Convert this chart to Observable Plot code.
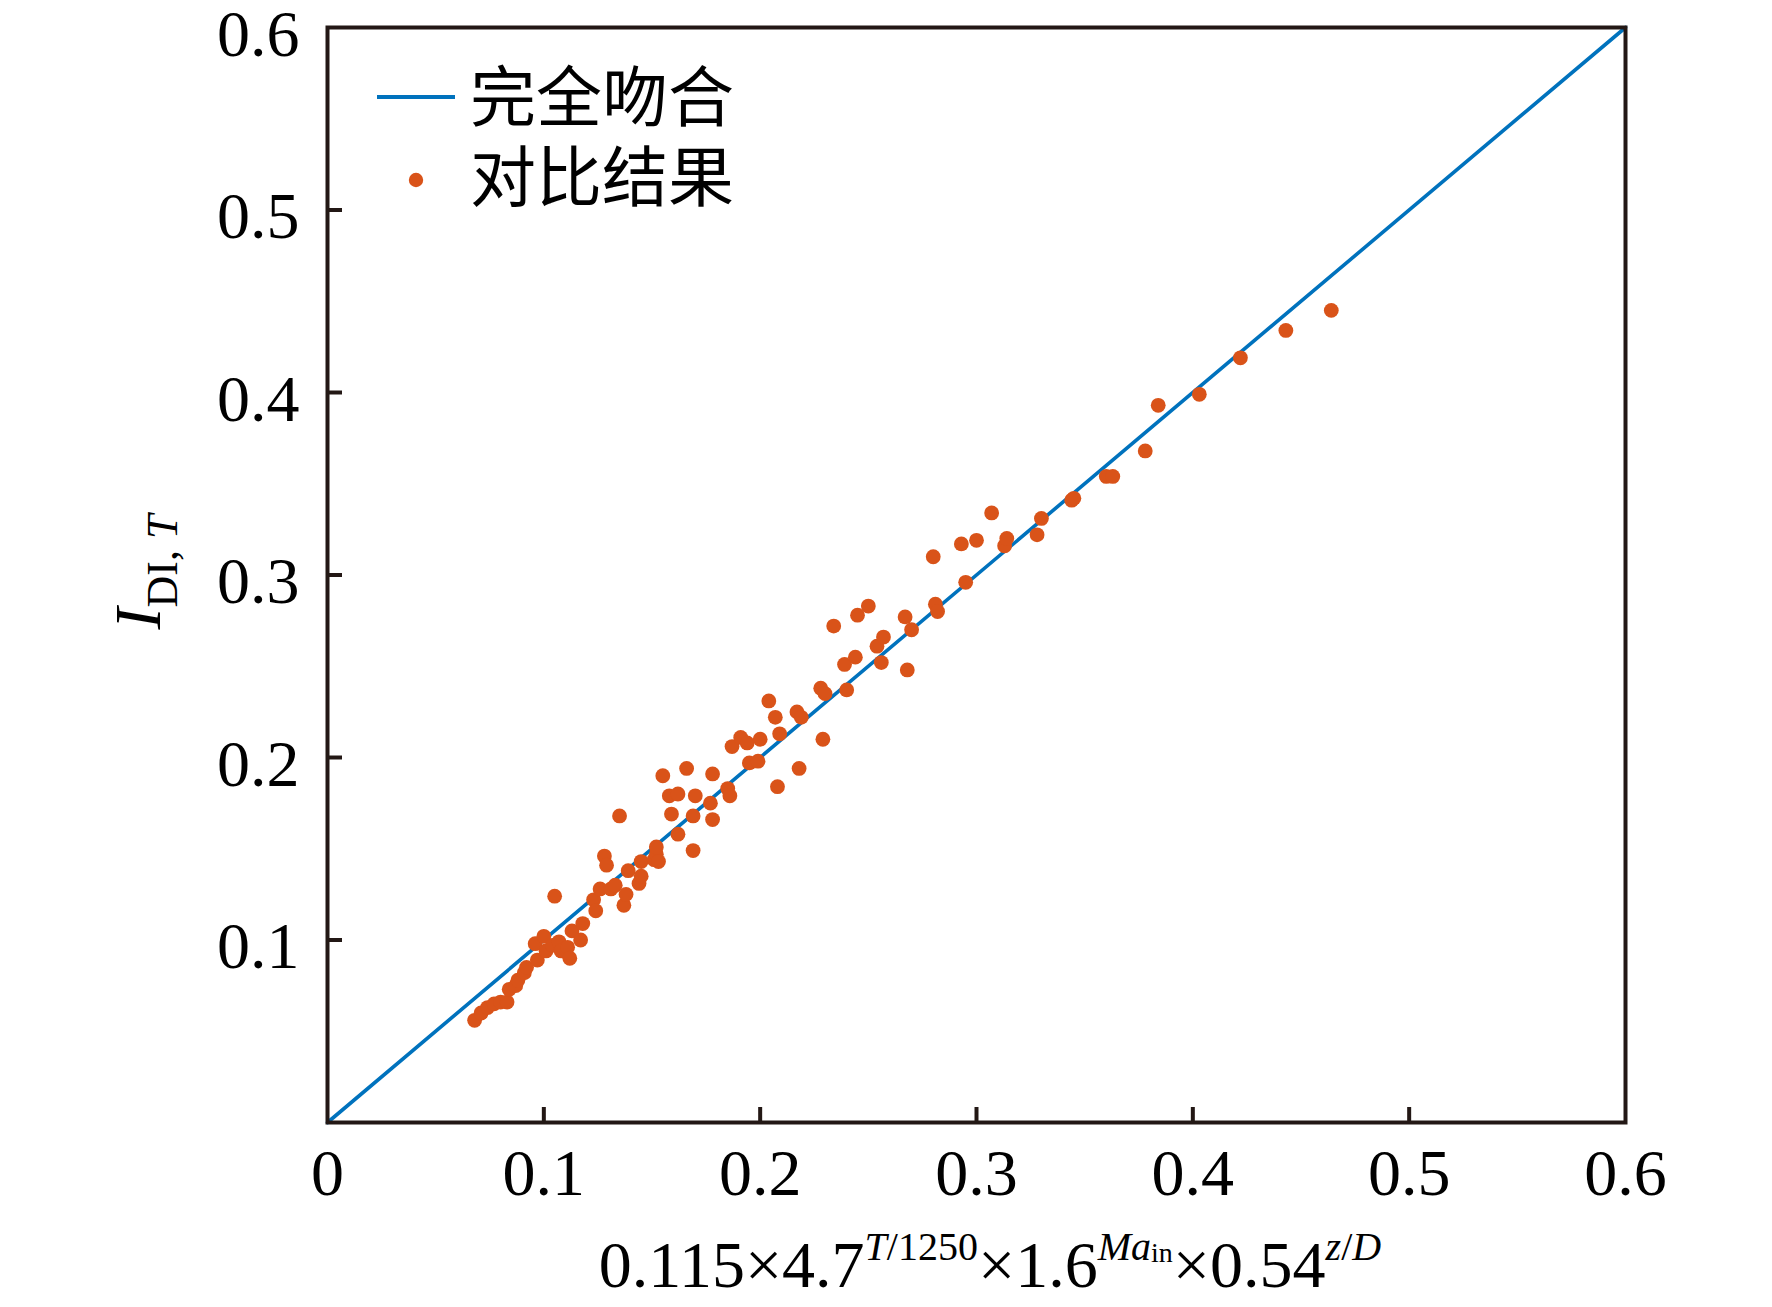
<!DOCTYPE html>
<html>
<head>
<meta charset="utf-8">
<script src="https://cdn.jsdelivr.net/npm/d3@7"></script>
<script src="https://cdn.jsdelivr.net/npm/@observablehq/plot@0.6"></script>
<style>
  html, body { margin: 0; padding: 0; background: #fff; overflow: hidden; }
  #chart svg { display: block; }
</style>
</head>
<body>
<div id="chart"></div>
<script>
// ---- data ----
const xTicks = [0, 0.1, 0.2, 0.3, 0.4, 0.5, 0.6];
const xTickLabels = ["0", "0.1", "0.2", "0.3", "0.4", "0.5", "0.6"];
const yTicks = [0.1, 0.2, 0.3, 0.4, 0.5, 0.6];
const yTickLabels = ["0.1", "0.2", "0.3", "0.4", "0.5", "0.6"];
const innerTicks = [0.1, 0.2, 0.3, 0.4, 0.5];

const legendLabels = ["完全吻合", "对比结果"];
const fitX = [0, 0.6];           // perfect-fit line y = x
const fitY = [0, 0.6];

// comparison results: predicted (x) vs measured I_DI,T (y)
const predX = [
  0.068, 0.071, 0.074, 0.077, 0.080, 0.083, 0.084, 0.087, 0.088, 0.091,
  0.092, 0.096, 0.097, 0.100, 0.101, 0.105, 0.104, 0.107, 0.108, 0.111,
  0.112, 0.113, 0.117, 0.118, 0.123, 0.124, 0.126, 0.128, 0.129, 0.131,
  0.133, 0.135, 0.137, 0.138, 0.139, 0.144, 0.145, 0.145, 0.151, 0.152,
  0.152, 0.153, 0.155, 0.158, 0.159, 0.162, 0.162, 0.166, 0.169, 0.169,
  0.170, 0.177, 0.178, 0.178, 0.185, 0.186, 0.187, 0.191, 0.194, 0.195,
  0.199, 0.200, 0.204, 0.207, 0.208, 0.209, 0.217, 0.219, 0.218, 0.228,
  0.229, 0.230, 0.234, 0.239, 0.240, 0.244, 0.245, 0.250, 0.254, 0.256,
  0.257, 0.267, 0.268, 0.270, 0.280, 0.281, 0.282, 0.293, 0.295, 0.300,
  0.307, 0.313, 0.314, 0.328, 0.330, 0.344, 0.345, 0.360, 0.363, 0.378,
  0.384, 0.403, 0.422, 0.443, 0.464
];
const measY = [
  0.056, 0.060, 0.063, 0.065, 0.066, 0.066, 0.073, 0.075, 0.078, 0.082,
  0.085, 0.098, 0.089, 0.102, 0.094, 0.124, 0.097, 0.099, 0.094, 0.096,
  0.090, 0.105, 0.100, 0.109, 0.122, 0.116, 0.128, 0.146, 0.141, 0.128,
  0.130, 0.168, 0.119, 0.125, 0.138, 0.131, 0.135, 0.143, 0.144, 0.147,
  0.151, 0.143, 0.190, 0.179, 0.169, 0.180, 0.158, 0.194, 0.168, 0.149,
  0.179, 0.175, 0.166, 0.191, 0.183, 0.179, 0.206, 0.211, 0.208, 0.197,
  0.198, 0.210, 0.231, 0.222, 0.184, 0.213, 0.225, 0.222, 0.194, 0.238,
  0.210, 0.235, 0.272, 0.251, 0.237, 0.255, 0.278, 0.283, 0.261, 0.252,
  0.266, 0.277, 0.248, 0.270, 0.310, 0.284, 0.280, 0.317, 0.296, 0.319,
  0.334, 0.316, 0.320, 0.322, 0.331, 0.341, 0.342, 0.354, 0.354, 0.368,
  0.393, 0.399, 0.419, 0.434, 0.445
];

// ---- build tables ----
const points = predX.map((x, i) => ({x, y: measY[i]}));
const fitLine = fitX.map((x, i) => ({x, y: fitY[i]}));

const W = 1772, H = 1307;
const mL = 327, mR = 147, mT = 27, mB = 185;
const plotW = W - mL - mR, plotH = H - mT - mB;
const tickLen = 15;
const frameColor = "#231815";
const lineColor = "#0072BD";
const dotColor = "#D95319";
const serif = "'Liberation Serif', 'Times New Roman', 'DejaVu Serif', serif";
const cjk = "'Noto Sans CJK SC', 'Noto Sans', sans-serif";

const chart = Plot.plot({
  width: W,
  height: H,
  marginLeft: mL,
  marginRight: mR,
  marginTop: mT,
  marginBottom: mB,
  x: {domain: [0, 0.6]},
  y: {domain: [0, 0.6]},
  style: {fontFamily: serif, fontSize: "66px", color: "#000", background: "#fff", overflow: "visible"},
  marks: [
    Plot.line(fitLine, {x: "x", y: "y", stroke: lineColor, strokeWidth: 3.6}),
    Plot.dot(points, {x: "x", y: "y", r: 7.4, fill: dotColor, stroke: "none"}),
    Plot.ruleX(innerTicks, {x: d => d, insetTop: plotH - tickLen, stroke: frameColor, strokeWidth: 4}),
    Plot.ruleY(innerTicks, {y: d => d, insetRight: plotW - tickLen, stroke: frameColor, strokeWidth: 4}),
    Plot.frame({stroke: frameColor, strokeWidth: 4}),
    Plot.axisX({ticks: xTicks, tickSize: 0, tickPadding: 26, label: null,
      tickFormat: d => xTickLabels[xTicks.indexOf(d)] ?? d, fontSize: 66}),
    Plot.axisY({ticks: yTicks, tickSize: 0, tickPadding: 28, dy: 7, label: null,
      tickFormat: d => yTickLabels[yTicks.indexOf(d)] ?? d, fontSize: 66})
  ]
});

document.getElementById("chart").appendChild(chart);

// ---- rich-text axis titles and legend ----
const svg = d3.select(chart);

// x-axis title: 0.115×4.7^{T/1250}×1.6^{Ma_in}×0.54^{z/D}
const xt = svg.append("text")
  .attr("x", 990).attr("y", 1287)
  .attr("text-anchor", "middle")
  .attr("font-family", serif).attr("font-size", 66).attr("fill", "#000");
xt.append("tspan").text("0.115×4.7");
xt.append("tspan").attr("dy", -27).attr("font-size", 40).attr("font-style", "italic").text("T");
xt.append("tspan").attr("font-size", 40).text("/1250");
xt.append("tspan").attr("dy", 27).text("×1.6");
xt.append("tspan").attr("dy", -27).attr("font-size", 40).attr("font-style", "italic").text("Ma");
xt.append("tspan").attr("dy", 2).attr("font-size", 28).text("in");
xt.append("tspan").attr("dy", 25).text("×0.54");
xt.append("tspan").attr("dy", -27).attr("font-size", 40).attr("font-style", "italic").text("z");
xt.append("tspan").attr("font-size", 40).text("/");
xt.append("tspan").attr("font-size", 40).attr("font-style", "italic").text("D");

// y-axis title: I_{DI, T}
const yt = svg.append("text")
  .attr("transform", "translate(160,572) rotate(-90)")
  .attr("text-anchor", "middle")
  .attr("font-family", serif).attr("font-size", 66).attr("fill", "#000");
yt.append("tspan").attr("font-style", "italic").text("I");
yt.append("tspan").attr("dy", 17).attr("font-size", 44).text("DI, ");
yt.append("tspan").attr("font-size", 44).attr("font-style", "italic").text("T");

// legend
const lg = svg.append("g").attr("text-anchor", "start");
lg.append("line")
  .attr("x1", 377).attr("x2", 455).attr("y1", 97).attr("y2", 97)
  .attr("stroke", lineColor).attr("stroke-width", 4);
lg.append("circle")
  .attr("cx", 416).attr("cy", 180).attr("r", 7.2).attr("fill", dotColor);
lg.append("text")
  .attr("x", 470).attr("y", 121).attr("text-anchor", "start")
  .attr("font-family", cjk).attr("font-size", 66).attr("fill", "#000")
  .text(legendLabels[0]);
lg.append("text")
  .attr("x", 470).attr("y", 201).attr("text-anchor", "start")
  .attr("font-family", cjk).attr("font-size", 66).attr("fill", "#000")
  .text(legendLabels[1]);
</script>
</body>
</html>
